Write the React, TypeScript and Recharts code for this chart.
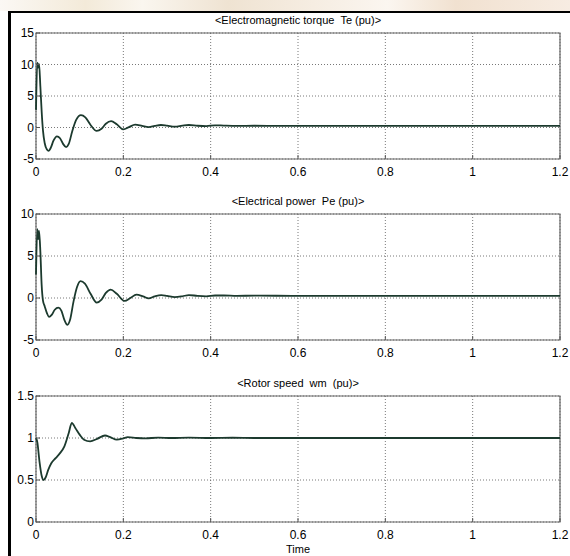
import React from 'react';
import { LineChart, Line, XAxis, YAxis, CartesianGrid, ReferenceArea } from 'recharts';

const FONT = "'Liberation Sans', Arial, Helvetica, sans-serif";
const LINE_COLOR = '#1c3a2e';

const xTicks = [0, 0.2, 0.4, 0.6, 0.8, 1, 1.2];

// Electromagnetic torque Te (pu)
const teTime = [0, 0.003, 0.005, 0.007, 0.01, 0.013, 0.016, 0.02, 0.025, 0.029, 0.034, 0.04, 0.048, 0.055, 0.062, 0.069, 0.075, 0.083, 0.092, 0.103, 0.113, 0.125, 0.139, 0.15, 0.16, 0.172, 0.185, 0.2, 0.213, 0.227, 0.243, 0.258, 0.272, 0.286, 0.3, 0.318, 0.335, 0.35, 0.37, 0.39, 0.41, 0.43, 0.46, 0.5, 0.6, 0.8, 1.0, 1.2];
const teValues = [2.8, 10.3, 9.5, 10.1, 6.5, 2.5, -0.5, -2.5, -3.5, -3.7, -3.2, -2.1, -1.4, -1.7, -2.6, -3.1, -2.6, -0.6, 1.2, 1.95, 1.6, 0.4, -0.55, -0.2, 0.6, 1.0, 0.5, -0.3, 0.05, 0.45, 0.25, 0.05, 0.25, 0.4, 0.3, 0.15, 0.3, 0.4, 0.28, 0.22, 0.35, 0.3, 0.25, 0.28, 0.25, 0.25, 0.25, 0.25];
const teTicks = [-5, 0, 5, 10, 15];

// Electrical power Pe (pu)
const peTime = [0, 0.003, 0.005, 0.007, 0.01, 0.013, 0.016, 0.02, 0.025, 0.03, 0.036, 0.043, 0.051, 0.058, 0.065, 0.072, 0.078, 0.086, 0.094, 0.102, 0.112, 0.125, 0.139, 0.15, 0.16, 0.171, 0.185, 0.203, 0.216, 0.23, 0.245, 0.258, 0.272, 0.287, 0.3, 0.318, 0.335, 0.35, 0.37, 0.39, 0.41, 0.43, 0.46, 0.5, 0.6, 0.8, 1.0, 1.2];
const peValues = [2.8, 8.2, 7.0, 8.0, 5.5, 1.5, -0.3, -1.0, -1.8, -2.25, -2.0, -1.4, -1.15, -1.5, -2.6, -3.2, -2.6, -0.4, 1.3, 2.0, 1.7, 0.5, -0.55, -0.2, 0.6, 1.0, 0.5, -0.35, 0.0, 0.4, 0.2, -0.05, 0.2, 0.35, 0.25, 0.1, 0.2, 0.35, 0.25, 0.2, 0.3, 0.3, 0.25, 0.28, 0.25, 0.25, 0.25, 0.25];
const peTicks = [-5, 0, 5, 10];

// Rotor speed wm (pu)
const wmTime = [0, 0.003, 0.008, 0.013, 0.017, 0.022, 0.028, 0.035, 0.045, 0.055, 0.065, 0.075, 0.082, 0.09, 0.1, 0.11, 0.124, 0.14, 0.158, 0.17, 0.185, 0.2, 0.21, 0.23, 0.25, 0.28, 0.31, 0.35, 0.4, 0.45, 0.5, 0.6, 0.8, 1.0, 1.2];
const wmValues = [1.0, 0.95, 0.72, 0.55, 0.5, 0.53, 0.62, 0.7, 0.76, 0.82, 0.9, 1.06, 1.18, 1.12, 1.04, 0.98, 0.96, 0.99, 1.03, 1.01, 0.98, 0.995, 1.01, 1.0, 0.995, 1.005, 1.0, 1.005, 1.0, 1.003, 1.0, 1.0, 1.0, 1.0, 1.0];
const wmTicks = [0, 0.5, 1, 1.5];

const build = (t: number[], v: number[]) => t.map((x, i) => ({ t: x, v: v[i] }));

const PLOT_W = 570;
const MARGIN = { top: 10, right: 10, left: 6, bottom: 1 };
const PLOT_H = 126;
const X_AXIS_H = 22;
const CHART_H = MARGIN.top + PLOT_H + X_AXIS_H + MARGIN.bottom;

type PanelProps = { data: { t: number; v: number }[]; ticks: number[]; top: number; title: string };

function Panel({ data, ticks, top, title }: PanelProps) {
  const lo = ticks[0];
  const hi = ticks[ticks.length - 1];
  return (
    <>
      <div
        style={{
          position: 'absolute',
          left: 36,
          width: 524,
          top: top + MARGIN.top - 19,
          textAlign: 'center',
          fontFamily: FONT,
          fontSize: 11,
          lineHeight: '12px',
          color: '#000',
          whiteSpace: 'pre',
        }}
      >
        {title}
      </div>
      <div style={{ position: 'absolute', left: 0, top }}>
        <LineChart width={PLOT_W} height={CHART_H} data={data} margin={MARGIN}>
          <CartesianGrid stroke="#555" strokeDasharray="1 2" strokeWidth={0.8} />
          <XAxis
            type="number"
            dataKey="t"
            domain={[0, 1.2]}
            ticks={xTicks}
            height={X_AXIS_H}
            axisLine={false}
            tickSize={-4}
            tickMargin={12}
            tickLine={{ stroke: '#555' }}
            tick={{ fill: '#000', fontSize: 12, fontFamily: FONT }}
            interval={0}
          />
          <YAxis
            type="number"
            domain={[lo, hi]}
            ticks={ticks}
            width={30}
            axisLine={false}
            tickSize={-4}
            tickMargin={6}
            tickLine={{ stroke: '#555' }}
            tick={{ fill: '#000', fontSize: 12, fontFamily: FONT }}
            interval={0}
            allowDataOverflow
          />
          <ReferenceArea x1={0} x2={1.2} y1={lo} y2={hi} fill="none" stroke="#666" strokeWidth={1.2} />
          <Line
            type="monotone"
            dataKey="v"
            stroke={LINE_COLOR}
            strokeWidth={1.8}
            dot={false}
            isAnimationActive={false}
          />
        </LineChart>
      </div>
    </>
  );
}

export default function App() {
  return (
    <div
      style={{
        position: 'absolute',
        left: 0,
        top: 0,
        width: 570,
        height: 556,
        background: '#fff',
        overflow: 'hidden',
      }}
    >
      <div
        style={{
          position: 'absolute',
          left: 0,
          top: 0,
          width: 570,
          height: 11,
          background:
            'linear-gradient(90deg, #fbf8f4 0%, #f3ead9 15%, #faf6ef 25%, #efe3d2 40%, #f6ede2 55%, #fbf6f0 68%, #f1e1d0 80%, #f7ece2 100%)',
        }}
      />
      <div style={{ position: 'absolute', left: 8, top: 11, width: 562, height: 2, background: '#000' }} />
      <div style={{ position: 'absolute', left: 8, top: 11, width: 3, height: 545, background: '#000' }} />
      <Panel data={build(teTime, teValues)} ticks={teTicks} top={23} title="<Electromagnetic torque  Te (pu)>" />
      <Panel data={build(peTime, peValues)} ticks={peTicks} top={204} title="<Electrical power  Pe (pu)>" />
      <Panel data={build(wmTime, wmValues)} ticks={wmTicks} top={386} title="<Rotor speed  wm  (pu)>" />
      <div
        style={{
          position: 'absolute',
          left: 36,
          width: 524,
          top: 543,
          textAlign: 'center',
          fontFamily: FONT,
          fontSize: 11,
          lineHeight: '12px',
          color: '#000',
        }}
      >
        Time
      </div>
    </div>
  );
}
